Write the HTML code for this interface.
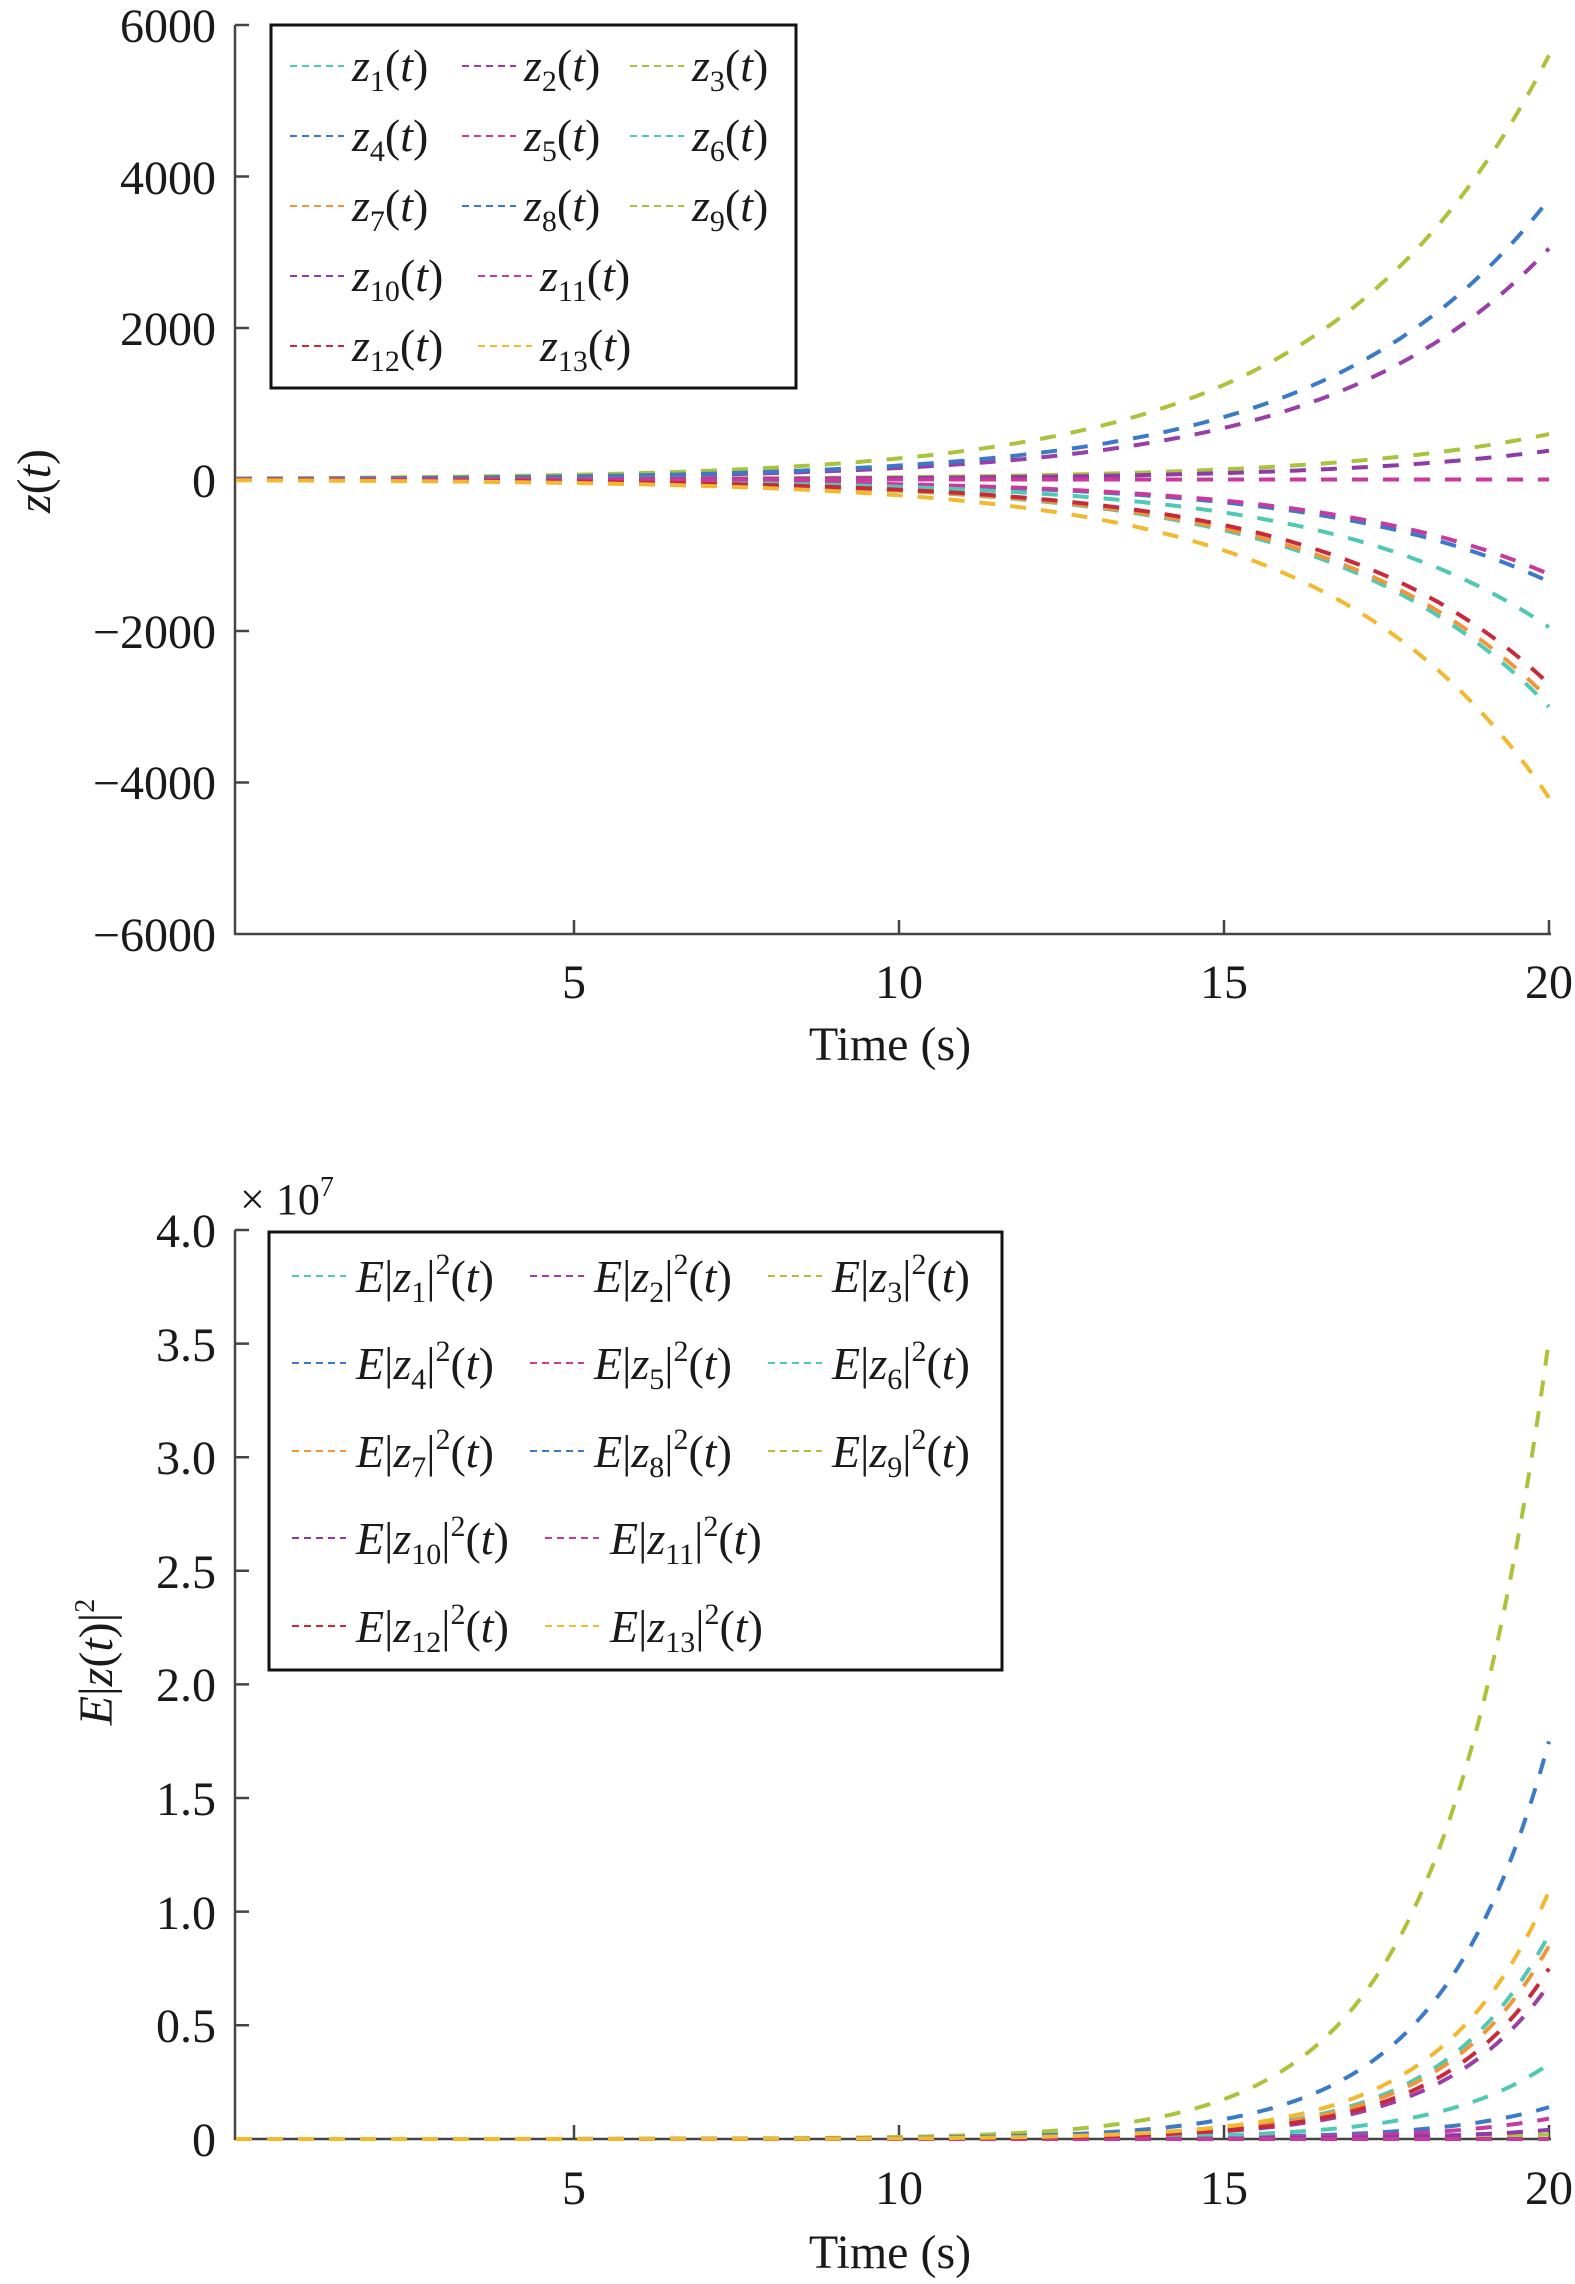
<!DOCTYPE html>
<html><head><meta charset="utf-8"><style>
html,body{margin:0;padding:0;background:#fff}
svg text{font-family:"Liberation Serif",serif;fill:#1a1a1a}
</style></head><body>
<svg id="s" width="1575" height="2279" viewBox="0 0 1575 2279" xmlns="http://www.w3.org/2000/svg">
<!-- axes -->
<g stroke="#444" stroke-width="2.5" fill="none">
<path d="M235,25 V934 H1551"/>
<path d="M235,25 h14 M235,176.5 h14 M235,328 h14 M235,479.5 h14 M235,631 h14 M235,782.5 h14"/>
<path d="M574,934 v-14 M899,934 v-14 M1224,934 v-14 M1549,934 v-14"/>
<path d="M235,1230 V2139 H1551"/>
<path d="M235,1230 h14 M235,1343.6 h14 M235,1457.2 h14 M235,1570.8 h14 M235,1684.4 h14 M235,1798 h14 M235,1911.6 h14 M235,2025.2 h14"/>
<path d="M574,2139 v-14 M899,2139 v-14 M1224,2139 v-14 M1549,2139 v-14"/>
</g>
<g id="curves"></g>
<g font-size="48" text-anchor="end">
<text x="216" y="42">6000</text><text x="216" y="194">4000</text><text x="216" y="345">2000</text><text x="216" y="497">0</text>
<text x="216" y="648">−2000</text><text x="216" y="799">−4000</text><text x="216" y="951">−6000</text>
<text x="216" y="1247">4.0</text><text x="216" y="1361">3.5</text><text x="216" y="1474">3.0</text><text x="216" y="1588">2.5</text>
<text x="216" y="1701">2.0</text><text x="216" y="1815">1.5</text><text x="216" y="1929">1.0</text><text x="216" y="2042">0.5</text><text x="216" y="2156">0</text>
</g>
<g font-size="48" text-anchor="middle">
<text x="574" y="998">5</text><text x="899" y="998">10</text><text x="1224" y="998">15</text><text x="1549" y="998">20</text>
<text x="890" y="1060">Time (s)</text>
<text x="574" y="2204">5</text><text x="899" y="2204">10</text><text x="1224" y="2204">15</text><text x="1549" y="2204">20</text>
<text x="890" y="2268">Time (s)</text>
</g>
<text font-size="48" transform="translate(50,481) rotate(-90)" text-anchor="middle"><tspan font-style="italic">z</tspan>(<tspan font-style="italic">t</tspan>)</text>
<text font-size="48" transform="translate(112,1662) rotate(-90)" text-anchor="middle"><tspan font-style="italic">E</tspan>|<tspan font-style="italic">z</tspan>(<tspan font-style="italic">t</tspan>)|<tspan font-size="28" dy="-18">2</tspan></text>
<text x="240" y="1214" font-size="44">× 10<tspan font-size="28" dy="-18">7</tspan></text>
<g id="legends"></g>
</svg>
<script>
var C=['#4fc9b4','#9a3fa6','#a9c43b','#3b79c9','#c93a9c','#4fc9b4','#f0953a','#3b79c9','#a9c43b','#8e3aa8','#c93a9c','#c92a3a','#f2b830'];
var topA=[-3000,3050,5600,-1350,-1250,-1950,-2900,3700,600,380,0,-2700,-4200];
var botA=[0.9,0.68,3.52,0.14,0.09,0.33,0.85,1.75,0.02,0.04,0.0,0.75,1.09];
var ns='http://www.w3.org/2000/svg';
var g=document.getElementById('curves');
function X(t){return 249+65*t;}
function path(d,col,w,da){var p=document.createElementNS(ns,'path');p.setAttribute('d',d);p.setAttribute('stroke',col);p.setAttribute('stroke-width',w);p.setAttribute('fill','none');p.setAttribute('stroke-dasharray',da);return p;}
for(var i=0;i<13;i++){
 var d='',d2='';
 for(var t=-0.2;t<=20.001;t+=0.1){
  var v=topA[i]*Math.exp(0.3*(t-20));
  var y=479.5-v*151.5/2000;
  d+=(d?'L':'M')+X(t).toFixed(1)+','+y.toFixed(1);
  var v2=botA[i]*Math.exp(0.6*(t-20));
  var y2=2139-v2*227.2;
  d2+=(d2?'L':'M')+X(t).toFixed(1)+','+y2.toFixed(1);
 }
 g.appendChild(path(d,C[i],4,'16 15'));
 g.appendChild(path(d2,C[i],4,'16 15'));
}
var L=document.getElementById('legends');
function box(x,y,w,h){var r=document.createElementNS(ns,'rect');r.setAttribute('x',x);r.setAttribute('y',y);r.setAttribute('width',w);r.setAttribute('height',h);r.setAttribute('fill','#fff');r.setAttribute('stroke','#111');r.setAttribute('stroke-width',3);L.appendChild(r);}
function txt(x,y,html,fs){var t=document.createElementNS(ns,'text');t.setAttribute('x',x);t.setAttribute('y',y);t.setAttribute('font-size',fs);t.innerHTML=html;L.appendChild(t);}
box(271,25,525,363);
var topRows=[66,136,206,276,346];
var topCols=[[290,352],[462,524],[630,692]];
for(var i=0;i<13;i++){
 var r=Math.floor(i/3),c=i%3,sx,tx;
 if(i>=9){r=3+Math.floor((i-9)/2);c=(i-9)%2;sx=c?478:290;tx=c?540:352;}else{sx=topCols[c][0];tx=topCols[c][1];}
 var y=topRows[r];
 L.appendChild(path('M'+sx+','+y+'H'+(sx+54),C[i],2,'7 5'));
 txt(tx,y+15,'<tspan font-style="italic">z</tspan><tspan font-size="30" dy="10">'+(i+1)+'</tspan><tspan dy="-10">(</tspan><tspan font-style="italic">t</tspan>)',46);
}
box(269,1232,733,438);
var bRows=[1276,1363,1451,1538,1626];
var bCols=[[292,356],[530,594],[768,832]];
for(var i=0;i<13;i++){
 var r=Math.floor(i/3),c=i%3,sx,tx;
 if(i>=9){r=3+Math.floor((i-9)/2);c=(i-9)%2;sx=c?545:292;tx=c?610:356;}else{sx=bCols[c][0];tx=bCols[c][1];}
 var y=bRows[r];
 L.appendChild(path('M'+sx+','+y+'H'+(sx+54),C[i],2,'7 5'));
 txt(tx,y+16,'<tspan font-style="italic">E</tspan>|<tspan font-style="italic">z</tspan><tspan font-size="30" dy="10">'+(i+1)+'</tspan><tspan dy="-10">|</tspan><tspan font-size="30" dy="-18">2</tspan><tspan dy="18">(</tspan><tspan font-style="italic">t</tspan>)',46);
}
</script>
</body></html>
